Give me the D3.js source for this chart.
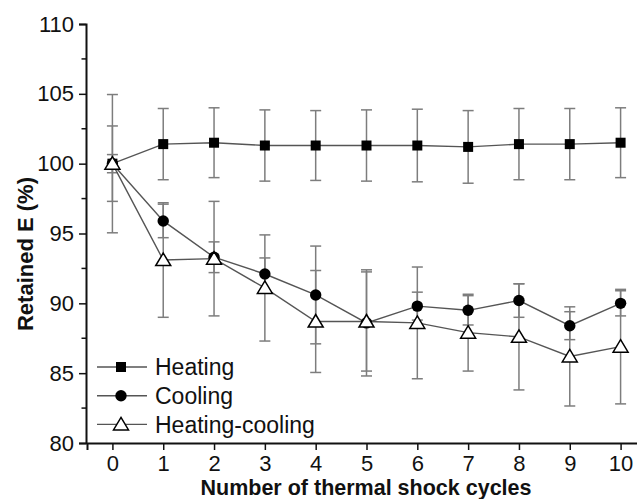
<!DOCTYPE html>
<html>
<head>
<meta charset="utf-8">
<script src="https://cdn.jsdelivr.net/npm/d3@7"></script>
<style>
  body { margin: 0; background: #fff; }
  svg { display: block; font-family: "Liberation Sans", Arial, sans-serif; }
  .tick text { font-size: 22px; fill: #111; }
  .axis-label { font-size: 22px; font-weight: bold; fill: #111; }
  .x-label { font-size: 21.5px; }
  .legend text { font-size: 23px; fill: #111; }
</style>
</head>
<body>
<div id="chart"></div>
<script>
// data
const cycles = [0, 1, 2, 3, 4, 5, 6, 7, 8, 9, 10];
const heating = [100, 101.4, 101.5, 101.3, 101.3, 101.3, 101.3, 101.2, 101.4, 101.4, 101.5];
const heatingErr = [0.65, 2.55, 2.5, 2.55, 2.5, 2.55, 2.6, 2.6, 2.55, 2.55, 2.5];
const cooling = [100, 95.9, 93.3, 92.1, 90.6, 88.6, 89.8, 89.5, 90.2, 88.4, 90.0];
const coolingErr = [2.7, 1.2, 1.1, 1.15, 3.5, 3.8, 1.0, 1.05, 1.2, 1.0, 0.9];
const heatCool = [100, 93.1, 93.2, 91.1, 88.7, 88.7, 88.6, 87.9, 87.6, 86.2, 86.9];
const heatCoolErr = [4.95, 4.1, 4.1, 3.8, 3.65, 3.55, 4.0, 2.75, 3.8, 3.55, 4.1];
const seriesNames = ["Heating", "Cooling", "Heating-cooling"];
const yTicks = [80, 85, 90, 95, 100, 105, 110];

const W = 637, H = 499;

const svg = d3.select("#chart").append("svg")
  .attr("width", W)
  .attr("height", H);

// Scales
const x = d3.scaleLinear().domain([-0.5, 10.5]).range([87, 646]);
const y = d3.scaleLinear().domain([80, 110]).range([443, 24]);

// Axes (left + bottom only)
const yAxis = svg.append("g")
  .attr("transform", "translate(86,0)")
  .call(d3.axisLeft(y).tickValues(yTicks).tickSize(7).tickPadding(5).tickFormat(d3.format("d")));

// minor ticks on y
yAxis.selectAll(".minor")
  .data(d3.range(82.5, 110, 5))
  .enter().append("line")
  .attr("class", "minor")
  .attr("x1", -4.5).attr("x2", 0)
  .attr("y1", d => y(d)).attr("y2", d => y(d))
  .attr("stroke", "#111").attr("stroke-width", 1.5);

const xAxis = svg.append("g")
  .attr("transform", "translate(0,443)")
  .call(d3.axisBottom(x).tickValues(cycles).tickSize(7).tickPadding(5).tickFormat(d3.format("d")));

[xAxis, yAxis].forEach(g => {
  g.select(".domain").attr("stroke", "#111").attr("stroke-width", 2);
  g.selectAll(".tick line").attr("stroke", "#111").attr("stroke-width", 1.5);
});

// Axis labels
svg.append("text")
  .attr("class", "axis-label x-label")
  .attr("x", 366).attr("y", 494.5)
  .attr("text-anchor", "middle")
  .text("Number of thermal shock cycles");

svg.append("text")
  .attr("class", "axis-label")
  .attr("transform", "translate(33,254) rotate(-90)")
  .attr("text-anchor", "middle")
  .text("Retained E (%)");

// Series
const series = [
  { name: seriesNames[0], vals: heating, err: heatingErr, shape: "square" },
  { name: seriesNames[1], vals: cooling, err: coolingErr, shape: "circle" },
  { name: seriesNames[2], vals: heatCool, err: heatCoolErr, shape: "triangle" }
];

const errColor = "#7d7d7d";
const lineColor = "#555";

function marker(sel, shape) {
  if (shape === "square") {
    sel.append("rect").attr("x", -5).attr("y", -5).attr("width", 10).attr("height", 10)
      .attr("fill", "#000");
  } else if (shape === "circle") {
    sel.append("circle").attr("r", 5.7).attr("fill", "#000");
  } else {
    sel.append("path").attr("d", "M0,-7L7.5,5.5L-7.5,5.5Z")
      .attr("fill", "#fff").attr("stroke", "#000").attr("stroke-width", 1.5);
  }
}

// error bars first
series.forEach(s => {
  const g = svg.append("g").attr("class", "errbars");
  cycles.forEach((c, i) => {
    const cx = x(c), lo = y(s.vals[i] - s.err[i]), hi = y(s.vals[i] + s.err[i]);
    g.append("line").attr("x1", cx).attr("x2", cx).attr("y1", lo).attr("y2", hi)
      .attr("stroke", errColor).attr("stroke-width", 1.5);
    [lo, hi].forEach(yy => {
      g.append("line").attr("x1", cx - 5.5).attr("x2", cx + 5.5).attr("y1", yy).attr("y2", yy)
        .attr("stroke", errColor).attr("stroke-width", 1.5);
    });
  });
});

const line = d3.line().x((d, i) => x(cycles[i])).y(d => y(d));

series.forEach(s => {
  svg.append("path")
    .datum(s.vals)
    .attr("fill", "none")
    .attr("stroke", lineColor)
    .attr("stroke-width", 1.4)
    .attr("d", line);
});

// markers: triangles drawn last so they sit on top at x = 0
series.forEach(s => {
  svg.append("g").selectAll("g")
    .data(s.vals)
    .enter().append("g")
    .attr("transform", (d, i) => `translate(${x(cycles[i])},${y(d)})`)
    .each(function () { marker(d3.select(this), s.shape); });
});

// Legend
const legend = svg.append("g").attr("class", "legend");
series.forEach((s, i) => {
  const ly = 367 + i * 28.7;
  const row = legend.append("g").attr("transform", `translate(0,${ly})`);
  row.append("line").attr("x1", 97).attr("x2", 147).attr("y1", 0).attr("y2", 0)
    .attr("stroke", lineColor).attr("stroke-width", 1.4);
  const m = row.append("g").attr("transform", "translate(121,0)");
  marker(m, s.shape);
  row.append("text").attr("x", 155).attr("y", 0).attr("dy", "0.36em").text(s.name);
});
</script>
</body>
</html>
